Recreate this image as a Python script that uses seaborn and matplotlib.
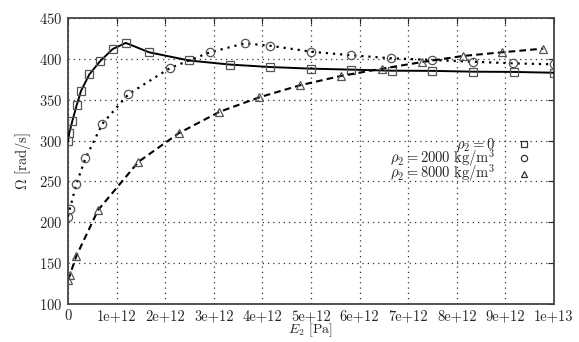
import matplotlib
matplotlib.use("Agg")
import matplotlib.pyplot as plt
from matplotlib.lines import Line2D
import numpy as np
import pandas as pd
import seaborn as sns

# Young's modulus E2 (Pa) and angular velocity Omega (rad/s) for three densities
e2_rho0 = [0.0, 0.025e12, 0.09e12, 0.18e12, 0.27e12, 0.44e12, 0.66e12, 0.92e12,
           1.19e12, 1.67e12, 2.49e12, 3.33e12, 4.16e12, 5.0e12, 5.83e12,
           6.67e12, 7.5e12, 8.33e12, 9.17e12, 10.0e12]
omega_rho0 = [299, 309, 324, 343.5, 361, 381, 397, 412, 419.5, 408, 398, 393,
              390, 388, 386.8, 385.5, 385.3, 384.3, 384, 383]

e2_rho2000 = [0.0, 0.04e12, 0.17e12, 0.36e12, 0.71e12, 1.24e12, 2.1e12, 2.92e12,
              3.64e12, 4.16e12, 5.0e12, 5.83e12, 6.65e12, 7.49e12, 8.33e12,
              9.16e12, 10.0e12]
omega_rho2000 = [207, 216.6, 246.5, 278.3, 320.7, 356.6, 388.8, 408, 419, 416,
                 408.8, 404.3, 400.7, 398.6, 396.5, 394.5, 393.3]

e2_rho8000 = [0.0, 0.04e12, 0.17e12, 0.62e12, 1.45e12, 2.28e12, 3.11e12, 3.94e12,
              4.77e12, 5.61e12, 6.46e12, 7.28e12, 8.12e12, 8.93e12, 9.78e12]
omega_rho8000 = [129.4, 135.5, 158.5, 215, 274, 309, 335, 353, 367.6, 379, 388,
                 396, 403.5, 408, 412.5]

series_labels = [r"$\rho_2 = 0$",
                 r"$\rho_2 = 2000\ \mathrm{kg/m^3}$",
                 r"$\rho_2 = 8000\ \mathrm{kg/m^3}$"]

x_ticks = [0, 1e12, 2e12, 3e12, 4e12, 5e12, 6e12, 7e12, 8e12, 9e12, 1e13]
x_tick_labels = ["0", "1e+12", "2e+12", "3e+12", "4e+12", "5e+12", "6e+12",
                 "7e+12", "8e+12", "9e+12", "1e+13"]
y_ticks = [100, 150, 200, 250, 300, 350, 400, 450]

sns.set_theme(style="white")
plt.rcParams["font.family"] = ["cmr10", "DejaVu Serif"]
plt.rcParams["mathtext.fontset"] = "cm"
plt.rcParams["axes.unicode_minus"] = False
plt.rcParams["axes.formatter.use_mathtext"] = True

ink = "#262626"

fig = plt.figure(figsize=(5.79, 3.42), dpi=100)
ax = fig.add_axes([0.1174, 0.1111, 0.8394, 0.8363])

styles = [
    dict(ls="-", marker="s", lw=1.4),
    dict(ls=(0, (1.0, 2.2)), marker="o", lw=1.6),
    dict(ls=(0, (3.2, 2.0)), marker="^", lw=1.5),
]
data = [(e2_rho0, omega_rho0), (e2_rho2000, omega_rho2000), (e2_rho8000, omega_rho8000)]

for (xs, ys), st in zip(data, styles):
    df = pd.DataFrame({"E2": xs, "Omega": ys})
    sns.lineplot(data=df, x="E2", y="Omega", ax=ax, color="black",
                 linestyle=st["ls"], linewidth=st["lw"], marker=st["marker"],
                 markersize=6, markerfacecolor="none", markeredgecolor="#555555",
                 markeredgewidth=0.9, sort=False, estimator=None, zorder=3)

ax.set_xlim(0, 1e13)
ax.set_ylim(100, 450)
ax.set_xticks(x_ticks)
ax.set_xticklabels(x_tick_labels)
ax.set_yticks(y_ticks)
ax.grid(True, linestyle=(0, (1.0, 3.2)), color="#333333", linewidth=0.9)
ax.tick_params(direction="in", length=4, width=0.8, color=ink,
               top=True, right=True, labelsize=10.5, labelcolor=ink, pad=4)
for sp in ax.spines.values():
    sp.set_color("#444444")
    sp.set_linewidth(1.3)

ax.set_xlabel(r"$E_2$ [Pa]", fontsize=10, color=ink, labelpad=-1)
ax.set_ylabel(r"$\Omega$ [rad/s]", fontsize=10.5, color=ink, labelpad=4)

handles = [Line2D([], [], ls="none", marker=st["marker"], markersize=4.5,
                  markerfacecolor="none", markeredgecolor="#333333",
                  markeredgewidth=0.9) for st in styles]
leg = ax.legend(handles, series_labels, loc="center right",
                bbox_to_anchor=(0.975, 0.50), frameon=False, markerfirst=False,
                fontsize=10.5, labelspacing=-0.45, handlelength=1.0,
                handletextpad=1.5, borderpad=0.2, labelcolor=ink)

fig.savefig("out.png", dpi=100)
